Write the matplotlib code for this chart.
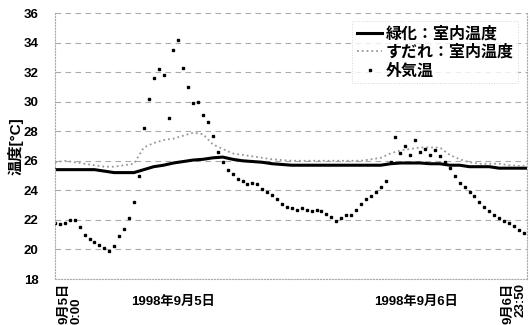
import pandas as pd
import matplotlib
matplotlib.use('Agg')
import matplotlib.pyplot as plt

plt.rcParams['font.family'] = ['Liberation Sans', 'Noto Sans CJK JP', 'DejaVu Sans']
plt.rcParams['font.weight'] = 'bold'

# 外気温 (30分毎, 9/5 0:00 から)
outdoor = [21.8, 21.7, 21.8, 22.0, 22.0, 21.5, 21.0, 20.7, 20.5, 20.3,
           20.1, 19.9, 20.2, 20.9, 21.4, 22.1, 23.2, 25.0, 28.2, 30.2,
           31.6, 32.2, 31.8, 28.9, 33.5, 34.2, 32.3, 31.0, 29.9, 30.0,
           29.1, 28.6, 27.7, 26.6, 25.9, 25.4, 25.1, 24.8, 24.6, 24.4,
           24.5, 24.4, 24.1, 23.9, 23.7, 23.4, 23.1, 22.9, 22.8, 22.7,
           22.8, 22.7, 22.6, 22.7, 22.6, 22.4, 22.2, 21.9, 22.1, 22.3,
           22.3, 22.7, 23.1, 23.4, 23.6, 23.9, 24.2, 24.6, 25.9, 27.6,
           26.5, 27.0, 26.4, 27.4, 26.6, 26.8, 26.4, 26.7, 26.3, 25.9,
           25.5, 25.0, 24.5, 24.2, 23.9, 23.6, 23.2, 22.9, 22.6, 22.3,
           22.1, 21.9, 21.8, 21.6, 21.3, 21.1]

# 室内温度 (1時間毎)
ryokuka = [25.4, 25.4, 25.4, 25.4, 25.4, 25.3, 25.2, 25.2, 25.2, 25.4,
           25.6, 25.7, 25.85, 25.95, 26.05, 26.1, 26.2, 26.25, 26.1, 26.0,
           25.95, 25.9, 25.8, 25.75, 25.7, 25.7, 25.7, 25.7, 25.7, 25.7,
           25.7, 25.7, 25.7, 25.7, 25.8, 25.85, 25.85, 25.85, 25.8, 25.8,
           25.7, 25.7, 25.6, 25.6, 25.6, 25.5, 25.5, 25.5, 25.5]
sudare = [25.9, 26.0, 25.9, 25.8, 25.7, 25.6, 25.6, 25.7, 25.8, 26.9,
          27.2, 27.4, 27.5, 27.7, 27.9, 27.8, 27.1, 26.8, 26.5, 26.4,
          26.3, 26.2, 26.1, 26.05, 26.0, 26.0, 26.0, 26.0, 26.0, 26.0,
          26.0, 26.0, 26.1, 26.2, 26.5, 26.7, 26.8, 26.9, 26.9, 26.9,
          26.4, 26.1, 25.9, 25.8, 25.8, 25.8, 25.7, 25.65, 25.65]

t_out = pd.date_range('1998-09-05 00:00', periods=len(outdoor), freq='30min')
t_in = pd.date_range('1998-09-05 00:00', periods=len(ryokuka), freq='1h')

fig = plt.figure(figsize=(5.31, 3.25), dpi=100)
ax = fig.add_axes([0.1036, 0.1415, 0.889, 0.8185])

ax.plot(t_in, ryokuka, color='black', lw=2.2, label='緑化：室内温度')
ax.plot(t_in, sudare, color='#999999', lw=1.3, ls=':', label='すだれ：室内温度')
ax.plot(t_out, outdoor, color='black', ls='none', marker='s', ms=1.7, label='外気温')

ax.set_xlim(pd.Timestamp('1998-09-05 00:00'), pd.Timestamp('1998-09-06 23:50'))
ax.set_ylim(18, 36)
ax.set_yticks(range(18, 37, 2))
ax.set_xticks([])
ax.tick_params(axis='y', length=0, labelsize=9.5, pad=12)
ax.yaxis.grid(True, color='#aaaaaa', ls=(0, (5, 4)), lw=0.8)
ax.set_axisbelow(True)
for s in ['left', 'right', 'bottom']:
    ax.spines[s].set_color('#aaaaaa')
    ax.spines[s].set_linestyle(':')
    ax.spines[s].set_linewidth(0.8)
ax.spines['top'].set_visible(False)

ax.set_ylabel('温度[°C]', fontsize=11, fontweight='bold', labelpad=0)

ax.text(0.008, -0.015, '9月5日\n0:00', transform=ax.transAxes, rotation=90,
        ha='left', va='top', fontsize=9.5, linespacing=0.95)
ax.text(0.998, -0.015, '9月6日\n23:50', transform=ax.transAxes, rotation=90,
        ha='right', va='top', fontsize=9.5, linespacing=0.95)
ax.text(0.25, -0.065, '1998年9月5日', transform=ax.transAxes, ha='center', va='top', fontsize=9.5)
ax.text(0.765, -0.065, '1998年9月6日', transform=ax.transAxes, ha='center', va='top', fontsize=9.5)

leg = ax.legend(loc='upper right', bbox_to_anchor=(0.985, 0.975), fontsize=11.5,
                frameon=True, fancybox=False, numpoints=1, handlelength=1.6,
                handletextpad=0.2, labelspacing=0.2, borderaxespad=0.1,
                borderpad=0.3)
leg.get_frame().set_edgecolor('#cccccc')
leg.get_frame().set_linestyle(':')
leg.get_frame().set_linewidth(0.7)

fig.savefig('out.png', dpi=100)
